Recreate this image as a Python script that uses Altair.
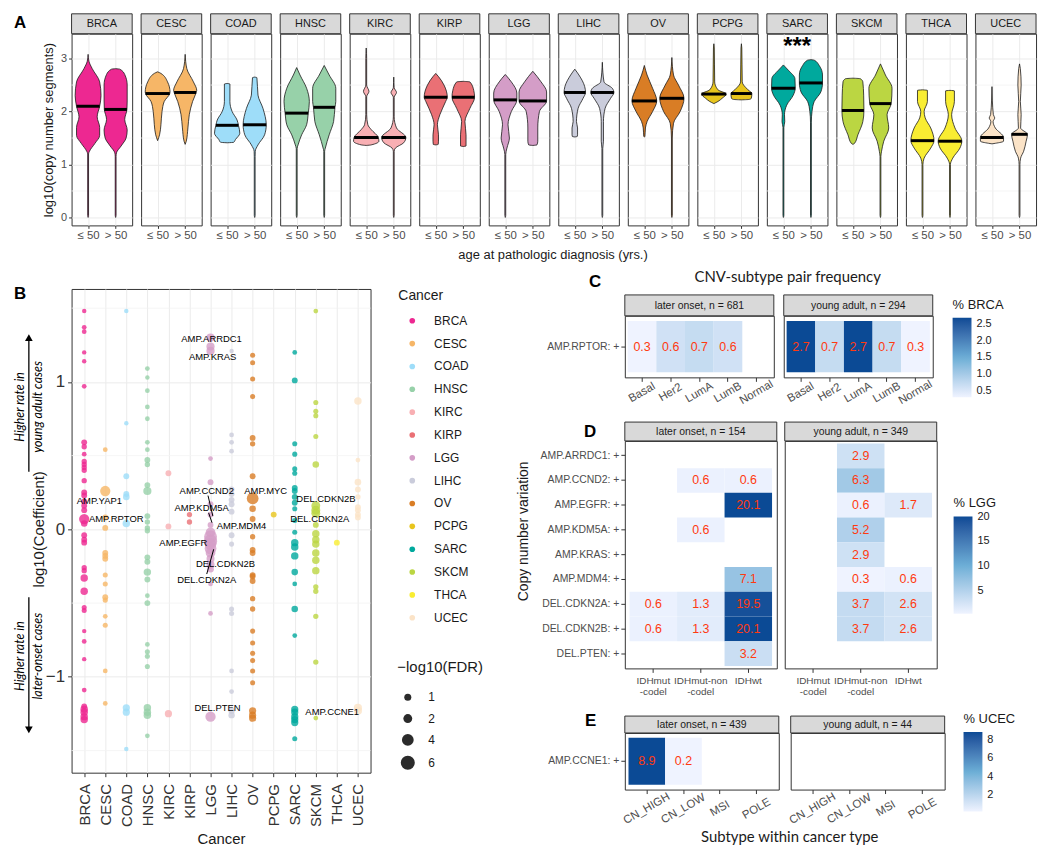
import json
import altair as alt
import pandas as pd

FONT = "Liberation Sans"
ALT_FONT = "Lato"
INK = "#1A1A1A"
TICK_TXT = "#4D4D4D"
BORDER = "#333333"
STRIP_FILL = "#D9D9D9"
GRID = "#EBEBEB"
MINOR_GRID = "#F3F3F3"
CELL_TXT = "#FF3A10"
HEAT_RANGE = ["#EFF3FF", "#6BAED6", "#0B4A95"]

CANCERS = ["BRCA", "CESC", "COAD", "HNSC", "KIRC", "KIRP", "LGG", "LIHC",
           "OV", "PCPG", "SARC", "SKCM", "THCA", "UCEC"]
CANCER_COLORS = ["#ED2891", "#F6B667", "#9EDDF9", "#97D1A9", "#F8AFB3", "#EA7075",
                 "#D49DC7", "#CACCDB", "#D97D25", "#E8C51D", "#00A99D", "#BBD642",
                 "#F9ED32", "#FBE3C7"]
COLOR_OF = dict(zip(CANCERS, CANCER_COLORS))
AGE_LABELS = ["≤ 50", "> 50"]

# ---------------- Panel A: violin outlines (log10 segments, half width) ----------
VIOLIN_LE = {
    "BRCA": [(3.08, 0), (2.95, 0.03), (2.81, 0.15), (2.56, 0.42), (2.3, 0.47), (2.1, 0.42), (1.9, 0.33), (1.7, 0.42), (1.55, 0.42), (1.4, 0.25), (1.25, 0.05), (1.2, 0.015), (0.04, 0.015), (0.0, 0)],
    "CESC": [(2.75, 0), (2.72, 0.12), (2.56, 0.36), (2.37, 0.45), (2.34, 0.44), (2.19, 0.24), (2.0, 0.16), (1.75, 0.12), (1.56, 0.07), (1.45, 0)],
    "COAD": [(2.53, 0), (2.52, 0.1), (2.19, 0.1), (2.0, 0.18), (1.84, 0.36), (1.74, 0.41), (1.59, 0.46), (1.47, 0.3), (1.42, 0.24), (1.41, 0)],
    "HNSC": [(2.83, 0), (2.69, 0.12), (2.44, 0.36), (2.19, 0.46), (1.97, 0.42), (1.75, 0.36), (1.56, 0.18), (1.37, 0.05), (1.3, 0.015), (0.04, 0.015), (0.0, 0)],
    "KIRC": [(3.2, 0), (3.0, 0.015), (2.5, 0.015), (2.38, 0.1), (2.28, 0.015), (1.94, 0.015), (1.75, 0.06), (1.66, 0.18), (1.51, 0.44), (1.44, 0.46), (1.37, 0.18), (1.36, 0)],
    "KIRP": [(2.72, 0), (2.66, 0.1), (2.5, 0.3), (2.27, 0.42), (2.19, 0.36), (1.94, 0.15), (1.75, 0.06), (1.56, 0.1), (1.44, 0.1), (1.38, 0.09), (1.37, 0)],
    "LGG": [(2.7, 0), (2.56, 0.22), (2.35, 0.42), (2.22, 0.42), (2.0, 0.22), (1.75, 0.1), (1.5, 0.15), (1.31, 0.06), (1.19, 0.015), (0.04, 0.015), (0.0, 0)],
    "LIHC": [(2.8, 0), (2.69, 0.15), (2.47, 0.36), (2.36, 0.39), (2.25, 0.3), (2.06, 0.12), (1.81, 0.06), (1.69, 0.1), (1.56, 0.1), (1.53, 0.09), (1.52, 0)],
    "OV": [(2.87, 0), (2.69, 0.1), (2.44, 0.3), (2.2, 0.45), (2.0, 0.3), (1.81, 0.1), (1.69, 0.04), (1.53, 0.02), (1.52, 0)],
    "PCPG": [(3.28, 0), (3.2, 0.015), (2.56, 0.03), (2.41, 0.15), (2.33, 0.45), (2.25, 0.3), (2.19, 0.15), (2.15, 0)],
    "SARC": [(2.88, 0), (2.78, 0.18), (2.62, 0.42), (2.44, 0.43), (2.31, 0.36), (2.12, 0.12), (1.94, 0.04), (1.81, 0.05), (1.7, 0.015), (0.04, 0.015), (0.0, 0)],
    "SKCM": [(2.63, 0), (2.62, 0.27), (2.56, 0.36), (2.31, 0.39), (2.02, 0.4), (1.81, 0.36), (1.56, 0.18), (1.4, 0.06), (1.38, 0)],
    "THCA": [(2.41, 0), (2.4, 0.18), (2.19, 0.18), (2.0, 0.06), (1.88, 0.1), (1.69, 0.3), (1.45, 0.42), (1.31, 0.3), (1.12, 0.06), (1.0, 0.015), (0.04, 0.015), (0.0, 0)],
    "UCEC": [(2.47, 0), (2.2, 0.015), (1.94, 0.05), (1.88, 0.1), (1.81, 0.04), (1.69, 0.12), (1.51, 0.42), (1.44, 0.42), (1.4, 0.12), (1.39, 0)],
}
VIOLIN_GT = {
    "BRCA": [(2.81, 0), (2.8, 0.15), (2.7, 0.33), (2.5, 0.42), (2.2, 0.42), (2.04, 0.41), (1.85, 0.33), (1.65, 0.42), (1.5, 0.38), (1.35, 0.2), (1.22, 0.03), (1.15, 0.015), (0.04, 0.015), (0.0, 0)],
    "CESC": [(3.08, 0), (2.81, 0.06), (2.56, 0.3), (2.4, 0.42), (2.36, 0.4), (2.19, 0.27), (1.94, 0.15), (1.69, 0.1), (1.44, 0.04), (1.38, 0)],
    "COAD": [(2.65, 0), (2.64, 0.08), (2.31, 0.12), (2.06, 0.3), (1.75, 0.42), (1.56, 0.36), (1.37, 0.12), (1.25, 0.02), (1.15, 0.015), (0.04, 0.015), (0.0, 0)],
    "HNSC": [(2.87, 0), (2.69, 0.18), (2.44, 0.42), (2.19, 0.42), (2.08, 0.39), (1.81, 0.34), (1.56, 0.18), (1.31, 0.04), (1.25, 0.015), (0.04, 0.015), (0.0, 0)],
    "KIRC": [(2.65, 0), (2.45, 0.015), (2.36, 0.1), (2.27, 0.015), (1.9, 0.015), (1.69, 0.1), (1.51, 0.44), (1.41, 0.36), (1.31, 0.06), (1.25, 0.015), (0.04, 0.015), (0.0, 0)],
    "KIRP": [(2.57, 0), (2.56, 0.24), (2.4, 0.38), (2.27, 0.41), (2.06, 0.24), (1.81, 0.06), (1.56, 0.1), (1.35, 0.1), (1.34, 0)],
    "LGG": [(2.76, 0), (2.56, 0.3), (2.37, 0.5), (2.2, 0.5), (2.0, 0.24), (1.69, 0.18), (1.44, 0.18), (1.37, 0.15), (1.36, 0)],
    "LIHC": [(2.93, 0), (2.56, 0.06), (2.44, 0.36), (2.36, 0.42), (2.25, 0.3), (2.06, 0.1), (1.81, 0.04), (1.44, 0.04), (1.3, 0.015), (0.04, 0.015), (0.0, 0)],
    "OV": [(3.02, 0), (2.69, 0.06), (2.5, 0.24), (2.25, 0.44), (2.0, 0.3), (1.78, 0.06), (1.5, 0.015), (0.04, 0.015), (0.0, 0)],
    "PCPG": [(3.28, 0), (3.2, 0.015), (2.56, 0.03), (2.41, 0.24), (2.34, 0.38), (2.25, 0.36), (2.23, 0.3), (2.22, 0)],
    "SARC": [(2.98, 0), (2.97, 0.12), (2.87, 0.3), (2.69, 0.42), (2.54, 0.42), (2.37, 0.36), (2.19, 0.12), (2.0, 0.04), (1.8, 0.015), (0.04, 0.015), (0.0, 0)],
    "SKCM": [(2.9, 0), (2.69, 0.18), (2.44, 0.42), (2.15, 0.39), (1.94, 0.24), (1.69, 0.3), (1.44, 0.12), (1.25, 0.04), (1.15, 0.015), (0.04, 0.015), (0.0, 0)],
    "THCA": [(2.4, 0), (2.39, 0.16), (2.19, 0.16), (1.94, 0.06), (1.69, 0.18), (1.44, 0.43), (1.31, 0.36), (1.12, 0.1), (1.0, 0.015), (0.04, 0.015), (0.0, 0)],
    "UCEC": [(2.9, 0), (2.81, 0.03), (2.5, 0.06), (2.19, 0.03), (1.94, 0.06), (1.69, 0.04), (1.57, 0.29), (1.44, 0.24), (1.25, 0.15), (1.12, 0.04), (1.0, 0.015), (0.04, 0.015), (0.0, 0)],
}
MEDIAN_LE = {"BRCA": (2.1, 0.42), "CESC": (2.34, 0.44), "COAD": (1.74, 0.41), "HNSC": (1.97, 0.42),
             "KIRC": (1.51, 0.44), "KIRP": (2.27, 0.42), "LGG": (2.22, 0.42), "LIHC": (2.36, 0.39),
             "OV": (2.2, 0.45), "PCPG": (2.33, 0.45), "SARC": (2.44, 0.43), "SKCM": (2.02, 0.4),
             "THCA": (1.45, 0.42), "UCEC": (1.51, 0.42)}
MEDIAN_GT = {"BRCA": (2.04, 0.41), "CESC": (2.36, 0.4), "COAD": (1.75, 0.42), "HNSC": (2.08, 0.39),
             "KIRC": (1.51, 0.44), "KIRP": (2.27, 0.41), "LGG": (2.2, 0.5), "LIHC": (2.36, 0.42),
             "OV": (2.25, 0.44), "PCPG": (2.34, 0.38), "SARC": (2.54, 0.42), "SKCM": (2.15, 0.39),
             "THCA": (1.44, 0.43), "UCEC": (1.57, 0.29)}
A_MINOR = [0.5, 1.5, 2.5]
SIG_CANCER = "SARC"
SIG_TEXT = "***"
SIG_Y = 3.3

# ---------------- Panel B: (log10 coefficient, -log10 FDR) per cancer ------------
PTS_BRCA = [(1.48, 0), (1.37, 0.1), (1.34, 0.1), (1.2, 0), (1.14, 0), (0.97, 0.1), (0.59, 0.5), (0.56, 0.3), (0.51, 0.1), (0.46, 0.3), (0.44, 0.3), (0.42, 0.3), (0.4, 0.3), (0.33, 0.3), (0.25, 0.5), (0.23, 0.5), (0.19, 0.5), (0.16, 0.5), (0.13, 0.5), (0.07, 2.9), (0.04, 0.8), (-0.04, 0.5), (-0.07, 0.5), (-0.09, 0.5), (-0.26, 0.3), (-0.28, 0.3), (-0.33, 1.2), (-0.42, 1.2), (-0.53, 0.2), (-0.55, 0.2), (-0.69, 0), (-0.76, 0.1), (-0.88, 0), (-1.09, 0.1), (-1.2, 0.5), (-1.22, 1.2), (-1.24, 1.2), (-1.27, 1.2), (-1.29, 1.2)]
PTS_CESC = [(0.54, 0.1), (0.26, 2.9), (0.08, 0.5), (0.01, 0.5), (-0.16, 0.5), (-0.18, 0.5), (-0.2, 0.5), (-0.31, 0.2), (-0.37, 0.2), (-0.46, 0.5), (-0.48, 0.2), (-0.59, 0.1), (-0.65, 0.2), (-0.96, 0.1), (-1.18, 0.1)]
PTS_COAD = [(1.48, 0), (0.72, 0), (0.36, 0.5), (0.24, 0.5), (0.22, 0.8), (0.04, 1.2), (-1.21, 1.1), (-1.24, 1.1), (-1.49, 0)]
PTS_HNSC = [(1.09, 0.1), (1.03, 0), (0.94, 0.1), (0.83, 0.1), (0.75, 0.1), (0.59, 0.1), (0.54, 0.1), (0.47, 0.5), (0.44, 0.3), (0.3, 0.5), (0.26, 1.6), (0.09, 0.5), (0.05, 0.3), (0.01, 0.3), (-0.01, 0.3), (-0.19, 0.5), (-0.22, 0.5), (-0.29, 1.2), (-0.34, 0.5), (-0.45, 0.1), (-0.5, 0.5), (-0.78, 0.1), (-0.83, 0.2), (-0.86, 0.2), (-0.93, 0.2), (-1.21, 1.2), (-1.24, 1.2), (-1.26, 1.2), (-1.4, 0.1)]
PTS_KIRC = [(0.38, 0.5), (0.02, 0.5), (-1.25, 1.1)]
PTS_KIRP = [(0.1, 0.3), (0.05, 0.3)]
PTS_LGG = [(1.3, 1.6), (1.24, 1.6), (1.21, 1.6), (0.48, 0.1), (0.32, 0.5), (0.17, 0.5), (0.1, 0.5), (0.03, 0.5), (-0.02, 2.5), (-0.05, 5), (-0.08, 5.2), (-0.1, 4), (-0.13, 4), (-0.16, 2.5), (-0.2, 1.5), (-0.24, 1.5), (-0.27, 0.8), (-0.37, 0.1), (-0.57, 0.1), (-1.27, 2.9)]
PTS_LIHC = [(1.21, 0), (0.64, 0.1), (0.59, 0.1), (0.53, 0.1), (0.27, 0.5), (0.24, 0.5), (0.2, 0.5), (0.17, 0.5), (0.12, 0.5), (-0.04, 0.5), (-0.1, 0.2), (-0.54, 0.2), (-0.57, 0.2), (-0.96, 0.1), (-1.1, 0.1), (-1.23, 0.7), (-1.26, 0.7)]
PTS_OV = [(1.18, 0.2), (1.13, 0.2), (1.02, 0.2), (0.9, 0.2), (0.62, 0.5), (0.58, 0.3), (0.36, 0.5), (0.21, 4), (0.14, 0.8), (0.07, 0.5), (-0.05, 0.3), (-0.14, 0.5), (-0.16, 0.5), (-0.31, 0.5), (-0.32, 0.5), (-0.35, 0.5), (-0.47, 0.3), (-0.54, 0.3), (-0.69, 0.2), (-0.77, 0.2), (-0.84, 0.2), (-0.89, 0.2), (-0.96, 0.2), (-1.04, 0.2), (-1.23, 1.1), (-1.26, 1.1), (-1.28, 1.1)]
PTS_PCPG = [(0.1, 0.5)]
PTS_SARC = [(1.2, 0.1), (1.01, 0.5), (0.58, 0.2), (0.51, 0.2), (0.41, 0.2), (0.38, 0.2), (0.28, 0.5), (0.26, 0.5), (0.22, 0.5), (0.18, 0.5), (0.14, 0.2), (0.06, 0.2), (-0.02, 0.2), (-0.09, 1.2), (-0.12, 1.2), (-0.18, 1.2), (-0.29, 0.8), (-0.37, 0.1), (-0.54, 0.8), (-0.72, 0.1), (-1.22, 1.1), (-1.24, 1.1), (-1.27, 1.1), (-1.29, 1.1), (-1.31, 1.1), (-1.42, 0.2)]
PTS_SKCM = [(1.48, 0.1), (0.86, 0.2), (0.8, 0.2), (0.77, 0.2), (0.63, 0.2), (0.44, 0.8), (0.16, 2), (0.13, 2), (0.11, 2), (0.03, 0.5), (-0.03, 1.2), (-0.07, 1.2), (-0.1, 1.2), (-0.16, 1.2), (-0.21, 1.2), (-0.28, 1.2), (-0.39, 0.3), (-0.42, 0.3), (-0.59, 0.3), (-0.9, 0.3), (-1.28, 0.1)]
PTS_THCA = [(-0.09, 0.5)]
PTS_UCEC = [(0.87, 1.2), (0.47, 0.1), (0.32, 0.8), (0.27, 0.5), (0.22, 0.3), (0.15, 0.5), (0.13, 0.5), (0.1, 0.5), (0.08, 0.5), (-1.21, 1.6), (-1.23, 1.6)]
B_POINTS = {"BRCA": PTS_BRCA, "CESC": PTS_CESC, "COAD": PTS_COAD, "HNSC": PTS_HNSC,
            "KIRC": PTS_KIRC, "KIRP": PTS_KIRP, "LGG": PTS_LGG, "LIHC": PTS_LIHC,
            "OV": PTS_OV, "PCPG": PTS_PCPG, "SARC": PTS_SARC, "SKCM": PTS_SKCM,
            "THCA": PTS_THCA, "UCEC": PTS_UCEC}
B_MINOR = [-1.5, -0.5, 0.5, 1.5]
FDR_LEGEND = [1, 2, 4, 6]

LABEL_TEXT = ["AMP.ARRDC1", "AMP.KRAS", "AMP.YAP1", "AMP.RPTOR", "AMP.CCND2", "AMP.KDM5A",
              "AMP.MDM4", "AMP.EGFR", "DEL.CDKN2B", "DEL.CDKN2A", "AMP.MYC", "DEL.CDKN2B",
              "DEL.CDKN2A", "DEL.PTEN", "AMP.CCNE1"]
LABEL_X = [7.05, 7.1, 1.72, 2.52, 6.82, 6.58, 8.47, 5.71, 7.71, 6.82, 9.62, 12.48, 12.19, 7.33, 12.78]
LABEL_Y = [1.293, 1.167, 0.19, 0.067, 0.263, 0.148, 0.02, -0.094, -0.236, -0.341, 0.263, 0.209, 0.067, -1.212, -1.239]
SEG_X1 = [6.88, 6.91, 7.15]
SEG_Y1 = [0.229, 0.112, -0.135]
SEG_X2 = [7.11, 7.07, 6.82]
SEG_Y2 = [0.09, 0.045, -0.303]

ARROW_UP = (0.39, 1.3)
ARROW_DOWN = (-0.46, -1.36)
NOTE_UP_Y = 0.83
NOTE_DOWN_Y = -0.86

# ---------------- Panels C-E: percentage of cases ---------------------------------
C_SUBTYPES = ["Basal", "Her2", "LumA", "LumB", "Normal"]
C_CNVS = ["AMP.RPTOR"]
C_LATER = [0.3, 0.6, 0.7, 0.6, None]
C_YOUNG = [2.7, 0.7, 2.7, 0.7, 0.3]

D_SUBTYPES = ["IDHmut-codel", "IDHmut-non-codel", "IDHwt"]
D_CNVS = ["AMP.ARRDC1", "AMP.CCND2", "AMP.EGFR", "AMP.KDM5A", "AMP.KRAS", "AMP.MDM4",
          "DEL.CDKN2A", "DEL.CDKN2B", "DEL.PTEN"]
D_LATER_CODEL = [None, None, None, None, None, None, 0.6, 0.6, None]
D_LATER_NONCODEL = [None, 0.6, None, 0.6, None, None, 1.3, 1.3, None]
D_LATER_WT = [None, 0.6, 20.1, None, None, 7.1, 19.5, 20.1, 3.2]
D_YOUNG_CODEL = [None] * 9
D_YOUNG_NONCODEL = [2.9, 6.3, 0.6, 5.2, 2.9, 0.3, 3.7, 3.7, None]
D_YOUNG_WT = [None, None, 1.7, None, None, 0.6, 2.6, 2.6, None]

E_SUBTYPES = ["CN_HIGH", "CN_LOW", "MSI", "POLE"]
E_CNVS = ["AMP.CCNE1"]
E_LATER = [8.9, 0.2, None, None]
E_YOUNG = [None, None, None, None]

C_STRIPS = ["later onset, n = 681", "young adult, n = 294"]
D_STRIPS = ["later onset, n = 154", "young adult, n = 349"]
E_STRIPS = ["later onset, n = 439", "young adult, n = 44"]


# ================= helpers =================
def free_text(t, x, y, size, weight="normal", align="left", baseline="top",
              font=FONT, angle=0, color="black"):
    return alt.Chart(pd.DataFrame({"t": [t]})).mark_text(
        fontSize=size, fontWeight=weight, align=align, baseline=baseline,
        font=font, angle=angle, color=color
    ).encode(x=alt.value(x), y=alt.value(y), text="t:N")


def strip_layers(label, w, h, size):
    d = pd.DataFrame({"t": [label]})
    box = alt.Chart(d).mark_rect(fill=STRIP_FILL, stroke=BORDER, strokeWidth=1).encode(
        x=alt.value(0), x2=alt.value(w), y=alt.value(-h), y2=alt.value(0))
    lab = alt.Chart(d).mark_text(fontSize=size, color=INK, font=FONT, baseline="middle",
                                 align="center").encode(
        x=alt.value(w / 2), y=alt.value(-h / 2 + 0.5), text="t:N")
    return [box, lab]


# ================= Panel A =================
A_W, A_H, A_STRIP = 61, 193, 20
a_yscale = alt.Scale(domain=[-0.15, 3.47], nice=False, zero=False)
a_xscale = alt.Scale(domain=[0.4, 2.6], nice=False, zero=False)
age_expr = "datum.value == 1 ? '%s' : '%s'" % (AGE_LABELS[0], AGE_LABELS[1])


def violin_panel(k, c):
    first = k == 0
    ykw = dict(values=[0, 1, 2, 3], grid=True, gridColor=GRID, domain=False,
               labels=first, ticks=first, tickSize=3, tickColor=BORDER,
               labelColor=TICK_TXT, labelFontSize=11, labelPadding=2, labelFlush=False)
    if first:
        ykw.update(title="log10(copy number segments)", titleFontSize=13,
                   titleFontWeight="normal", titleColor=INK, titlePadding=5)
    else:
        ykw.update(title=None)
    yaxis = alt.Axis(**ykw)
    xaxis = alt.Axis(values=[1, 2], labelExpr=age_expr, title=None, grid=True, gridColor=GRID,
                     domain=False, tickSize=3, tickColor=BORDER, labelColor=TICK_TXT,
                     labelFontSize=11.5, labelPadding=1, labelFlush=False, labelOverlap=False)

    def Y(f):
        return alt.Y(f, type="quantitative", scale=a_yscale, axis=yaxis)

    def X(f):
        return alt.X(f, type="quantitative", scale=a_xscale, axis=xaxis)

    rows = []
    for grp, center, shape in (("le", 1, VIOLIN_LE[c]), ("gt", 2, VIOLIN_GT[c])):
        for y, hw in sorted(shape):
            rows.append({"grp": grp, "center": center, "y": y, "hw": hw})
    vdf = pd.DataFrame(rows)
    mdf = pd.DataFrame({"center": [1, 2],
                        "m": [MEDIAN_LE[c][0], MEDIAN_GT[c][0]],
                        "hw": [MEDIAN_LE[c][1], MEDIAN_GT[c][1]]})

    minor = alt.Chart(pd.DataFrame({"g": A_MINOR})).mark_rule(
        color=MINOR_GRID, strokeWidth=0.8).encode(y=Y("g"))
    area = alt.Chart(vdf).transform_calculate(
        xl="datum.center - datum.hw", xr="datum.center + datum.hw"
    ).mark_area(orient="horizontal", interpolate="monotone", fill=COLOR_OF[c],
                fillOpacity=1, stroke=INK, strokeWidth=0.8).encode(
        y=Y("y"), x=X("xl"), x2="xr:Q", detail="grp:N")
    med = alt.Chart(mdf).transform_calculate(
        xl="datum.center - datum.hw", xr="datum.center + datum.hw"
    ).mark_rule(color="black", strokeWidth=3).encode(y=Y("m"), x=X("xl"), x2="xr:Q")
    layers = [minor, area, med] + strip_layers(c, A_W, A_STRIP, 11)
    if c == SIG_CANCER:
        layers.append(alt.Chart(pd.DataFrame({"t": [SIG_TEXT], "x": [1.5], "y": [SIG_Y]})).mark_text(
            fontSize=24, fontWeight="bold", color="black", baseline="middle", font=FONT, dy=4
        ).encode(x=X("x"), y=Y("y"), text="t:N"))
    if first:
        layers.append(free_text("A", -58, -19, 17, weight="bold"))
    return alt.layer(*layers).properties(width=A_W, height=A_H)


panel_a = alt.hconcat(*[violin_panel(k, c) for k, c in enumerate(CANCERS)], spacing=7).properties(
    title=alt.TitleParams("age at pathologic diagnosis (yrs.)", orient="bottom", anchor="middle",
                          dx=28, offset=8, fontSize=13, fontWeight="normal", font=FONT, color=INK))

# ================= Panel B =================
B_W, B_H = 301, 487
b_xscale = alt.Scale(domain=[0.4, 14.6], nice=False, zero=False)
b_yscale = alt.Scale(domain=[-1.65, 1.63], nice=False, zero=False)
cancer_expr = json.dumps(CANCERS) + "[datum.value - 1]"
b_xaxis = alt.Axis(values=list(range(1, 15)), labelExpr=cancer_expr, labelAngle=-90,
                   labelAlign="right", labelBaseline="middle", labelFontSize=15,
                   labelColor="#333333", labelPadding=7, labelOverlap=False, labelFlush=False,
                   tickSize=4, tickColor=BORDER, grid=True, gridColor=GRID, domain=False,
                   title="Cancer", titleFontSize=15, titleFontWeight="normal",
                   titleColor=INK, titlePadding=5)
b_yaxis = alt.Axis(values=[-1, 0, 1], labelFontSize=17, labelColor="#333333", labelPadding=3,
                   labelFlush=False, tickSize=4, tickColor=BORDER, grid=True, gridColor=GRID,
                   domain=False, title=None)


def BX(f):
    return alt.X(f, type="quantitative", scale=b_xscale, axis=b_xaxis)


def BY(f):
    return alt.Y(f, type="quantitative", scale=b_yscale, axis=b_yaxis)


b_rows = []
for i, c in enumerate(CANCERS):
    for y, s in B_POINTS[c]:
        b_rows.append({"cancer": c, "idx": i + 1, "y": y, "fdr": s})
bdf = pd.DataFrame(b_rows)

b_minor = alt.Chart(pd.DataFrame({"g": B_MINOR})).mark_rule(
    color=MINOR_GRID, strokeWidth=0.8).encode(y=BY("g"))
b_pts = alt.Chart(bdf).mark_circle(opacity=0.8).encode(
    x=BX("idx"), y=BY("y"),
    color=alt.Color("cancer:N", sort=CANCERS,
                    scale=alt.Scale(domain=CANCERS, range=CANCER_COLORS),
                    legend=alt.Legend(orient="right", offset=28, title="Cancer",
                                      titleFontSize=14, titleFontWeight="normal",
                                      titleColor=INK, titleFont=FONT, titlePadding=12,
                                      labelFontSize=12, labelColor=INK, labelFont=FONT,
                                      symbolType="circle", symbolSize=32, symbolOpacity=1,
                                      symbolStrokeWidth=0, symbolOffset=8, labelOffset=16,
                                      rowPadding=11, padding=0)),
    size=alt.Size("fdr:Q", scale=alt.Scale(domain=[0, 6], range=[20, 200], zero=False),
                  legend=alt.Legend(orient="none", legendX=328, legendY=374,
                                    title="−log10(FDR)", values=FDR_LEGEND,
                                    titleFontSize=15, titleFontWeight="normal",
                                    titleColor=INK, titleFont=FONT, titlePadding=16,
                                    labelFontSize=12, labelColor=INK, labelFont=FONT,
                                    symbolType="circle", symbolFillColor="#2B2B2B",
                                    symbolStrokeColor="#2B2B2B", symbolStrokeWidth=0,
                                    symbolOpacity=1, symbolOffset=3, labelOffset=13,
                                    rowPadding=9.5, padding=0)),
)
ldf = pd.DataFrame({"t": LABEL_TEXT, "x": LABEL_X, "y": LABEL_Y})
b_labels = alt.Chart(ldf).mark_text(fontSize=9.5, font=FONT, color="black",
                                    baseline="middle", align="center").encode(
    x=BX("x"), y=BY("y"), text="t:N")
sdf = pd.DataFrame({"x1": SEG_X1, "y1": SEG_Y1, "x2": SEG_X2, "y2": SEG_Y2})
b_segs = alt.Chart(sdf).mark_rule(color="black", strokeWidth=1).encode(
    x=BX("x1"), x2="x2:Q", y=BY("y1"), y2="y2:Q")

adf = pd.DataFrame({"a": [ARROW_UP[0], ARROW_DOWN[0]], "b": [ARROW_UP[1], ARROW_DOWN[1]],
                    "shape": ["triangle-up", "triangle-down"]})
b_arrows = alt.Chart(adf).mark_rule(color="black", strokeWidth=1.3).encode(
    x=alt.value(-43), y=BY("a"), y2="b:Q")
b_heads = alt.Chart(adf).mark_point(filled=True, color="black", size=60, opacity=1).encode(
    x=alt.value(-43), y=BY("b"), shape=alt.Shape("shape:N", scale=None, legend=None))
ndf = pd.DataFrame({"t": ["Higher rate in", "young adult cases", "Higher rate in", "later-onset cases"],
                    "y": [NOTE_UP_Y, NOTE_UP_Y, NOTE_DOWN_Y, NOTE_DOWN_Y],
                    "col": ["a", "b", "a", "b"]})
b_notes_a = alt.Chart(ndf).transform_filter("datum.col == 'a'").mark_text(
    angle=270, fontSize=12.5, fontStyle="italic", font=ALT_FONT, color="black",
    align="center", baseline="middle").encode(x=alt.value(-52), y=BY("y"), text="t:N")
b_notes_b = alt.Chart(ndf).transform_filter("datum.col == 'b'").mark_text(
    angle=270, fontSize=12.5, fontStyle="italic", font=ALT_FONT, color="black",
    align="center", baseline="middle").encode(x=alt.value(-34), y=BY("y"), text="t:N")
b_ytitle = alt.Chart(pd.DataFrame({"t": ["log10(Coefficient)"], "y": [0.0]})).mark_text(
    angle=270, fontSize=15, font=FONT, color=INK, align="center", baseline="middle").encode(
    x=alt.value(-33), y=BY("y"), text="t:N")

panel_b = alt.layer(b_minor, b_pts, b_segs, b_labels, b_arrows, b_heads, b_notes_a,
                    b_notes_b, b_ytitle, free_text("B", -58, -3, 17, weight="bold")
                    ).properties(width=B_W, height=B_H)


# ================= Panels C-E =================
def cells_df(subtypes, cnvs, columns, field):
    rows = []
    for s, col in zip(subtypes, columns):
        for cnv, v in zip(cnvs, col):
            if v is not None:
                rows.append({"sub": s, "cnv": cnv, field: v})
    if not rows:
        return pd.DataFrame({"sub": pd.Series([], dtype=str), "cnv": pd.Series([], dtype=str),
                             field: pd.Series([], dtype=float)})
    return pd.DataFrame(rows)


def heat_panel(df, field, xcats, ycats, w, h, cdom, strip_label, strip_h, show_y, legend,
               rotated, extras, label_pad):
    if rotated:
        xaxis = alt.Axis(title=None, labelAngle=-30, labelAlign="center", labelBaseline="middle",
                         labelPadding=label_pad, labelFontSize=11.5, labelColor=TICK_TXT,
                         tickSize=4, tickColor=BORDER, grid=False, domain=False,
                         labelOverlap=False)
    else:
        expr = ("datum.label == 'IDHmut-codel' ? ['IDHmut', '-codel'] : "
                "datum.label == 'IDHmut-non-codel' ? ['IDHmut-non', '-codel'] : datum.label")
        xaxis = alt.Axis(title=None, labelAngle=0, labelExpr=expr, labelBaseline="top",
                         labelPadding=label_pad, labelFontSize=10, labelLineHeight=11,
                         labelColor=TICK_TXT, tickSize=4, tickColor=BORDER, grid=False,
                         domain=False, labelOverlap=False)
    if show_y:
        yaxis = alt.Axis(title=None, labelExpr="datum.label + ': +'", labelFontSize=10.5,
                         labelColor=TICK_TXT, tickSize=4, tickColor=BORDER, grid=False,
                         domain=False, labelPadding=2)
    else:
        yaxis = None
    xs = alt.Scale(domain=xcats, paddingInner=0, paddingOuter=0.1)
    ys = alt.Scale(domain=ycats, paddingInner=0, paddingOuter=0.1)
    lo, hi = cdom
    cscale = alt.Scale(domain=[lo, (lo + hi) / 2, hi], range=HEAT_RANGE, interpolate="lab")
    base = alt.Chart(df)
    rect = base.mark_rect().encode(
        x=alt.X("sub:N", scale=xs, axis=xaxis, sort=xcats),
        y=alt.Y("cnv:N", scale=ys, axis=yaxis, sort=ycats),
        color=alt.Color(field, type="quantitative", scale=cscale, legend=legend))
    txt = base.mark_text(color=CELL_TXT, fontSize=12.5, font=FONT, baseline="middle").encode(
        x=alt.X("sub:N", scale=xs, axis=xaxis, sort=xcats),
        y=alt.Y("cnv:N", scale=ys, axis=yaxis, sort=ycats),
        text=alt.Text(field, type="quantitative", format=".1f"))
    layers = [rect, txt] + strip_layers(strip_label, w, strip_h, 10.5) + extras
    return alt.layer(*layers).properties(width=w, height=h)


def grad_legend(title, values, fmt, x, y, length):
    return alt.Legend(orient="none", legendX=x, legendY=y, title=title, values=values,
                      format=fmt, titleFontSize=13, titleFontWeight="normal", titleColor=INK,
                      titleFont=FONT, titlePadding=6, labelFontSize=11, labelColor=INK,
                      labelFont=FONT, gradientLength=length, gradientThickness=19,
                      labelOffset=5, padding=0)


# title row of the right-hand column ("C" + main title); its view is aligned with panel B
c_head = alt.layer(
    free_text("C", -36, -15, 17, weight="bold"),
    free_text("CNV-subtype pair frequency", 164, -19, 15, align="center", font=ALT_FONT, color=INK),
).properties(width=1, height=1, view=alt.ViewBackground(stroke="transparent"))

c_vals = [v for v in C_LATER + C_YOUNG if v is not None]
c_dom = (min(c_vals), max(c_vals))
c_left = heat_panel(cells_df(C_SUBTYPES, C_CNVS, [[v] for v in C_LATER], "pct_c"), "pct_c",
                    C_SUBTYPES, C_CNVS, 150, 62, c_dom, C_STRIPS[0], 21, True, None, True, [], 11)
c_right = heat_panel(cells_df(C_SUBTYPES, C_CNVS, [[v] for v in C_YOUNG], "pct_c"), "pct_c",
                     C_SUBTYPES, C_CNVS, 150, 62, c_dom, C_STRIPS[1], 21, False,
                     grad_legend("% BRCA", [0.5, 1.0, 1.5, 2.0, 2.5], ".1f", 170, -17, 80),
                     True, [], 11)
block_c = alt.hconcat(c_left, c_right, spacing=7).resolve_scale(color="independent")

d_all = [v for col in (D_LATER_CODEL, D_LATER_NONCODEL, D_LATER_WT, D_YOUNG_CODEL,
                       D_YOUNG_NONCODEL, D_YOUNG_WT) for v in col if v is not None]
d_dom = (min(d_all), max(d_all))
d_left = heat_panel(cells_df(D_SUBTYPES, D_CNVS, [D_LATER_CODEL, D_LATER_NONCODEL, D_LATER_WT], "pct_d"),
                    "pct_d", D_SUBTYPES, D_CNVS, 153, 229, d_dom, D_STRIPS[0], 19, True, None, False,
                    [free_text("D", -41, -17, 17, weight="bold"),
                     free_text("Copy number variation", -101, 91, 14, align="center",
                               baseline="middle", angle=270, color=INK)], 3)
d_right = heat_panel(cells_df(D_SUBTYPES, D_CNVS, [D_YOUNG_CODEL, D_YOUNG_NONCODEL, D_YOUNG_WT], "pct_d"),
                     "pct_d", D_SUBTYPES, D_CNVS, 153, 229, d_dom, D_STRIPS[1], 19, False,
                     grad_legend("% LGG", [5, 10, 15, 20], "d", 170, 57, 98), False, [], 3)
block_d = alt.hconcat(d_left, d_right, spacing=6).resolve_scale(color="independent")

e_vals = [v for v in E_LATER + E_YOUNG if v is not None]
e_dom = (min(e_vals), max(e_vals))
e_left = heat_panel(cells_df(E_SUBTYPES, E_CNVS, [[v] for v in E_LATER], "pct_e"), "pct_e",
                    E_SUBTYPES, E_CNVS, 155, 57, e_dom, E_STRIPS[0], 17, True, None, True,
                    [free_text("E", -40, -20, 17, weight="bold")], 15)
e_right = heat_panel(cells_df(E_SUBTYPES, E_CNVS, [[v] for v in E_YOUNG], "pct_e"), "pct_e",
                     E_SUBTYPES, E_CNVS, 155, 57, e_dom, E_STRIPS[1], 17, False,
                     grad_legend("% UCEC", [2, 4, 6, 8], "d", 174, -20, 80), True, [], 15)
block_e = alt.hconcat(e_left, e_right, spacing=6).resolve_scale(color="independent").properties(
    title=alt.TitleParams("Subtype within cancer type", orient="bottom", anchor="middle",
                          dx=8, offset=4, fontSize=15, fontWeight="normal", font=ALT_FONT,
                          color=INK))

cde = alt.vconcat(block_c, block_d, block_e, spacing=14).resolve_scale(color="independent")
right_col = alt.vconcat(c_head, cde, spacing=3).resolve_scale(color="independent")
bottom = alt.hconcat(panel_b, right_col, spacing=32).resolve_scale(color="independent",
                                                                  size="independent")

chart = alt.vconcat(panel_a, bottom, spacing=7).resolve_scale(
    color="independent", size="independent"
).configure(font=FONT).configure_view(stroke=BORDER, strokeWidth=1).properties(
    padding={"left": 5, "top": 2, "right": 5, "bottom": 5})

chart.save("out.html", embed_options={"renderer": "svg", "actions": False})
